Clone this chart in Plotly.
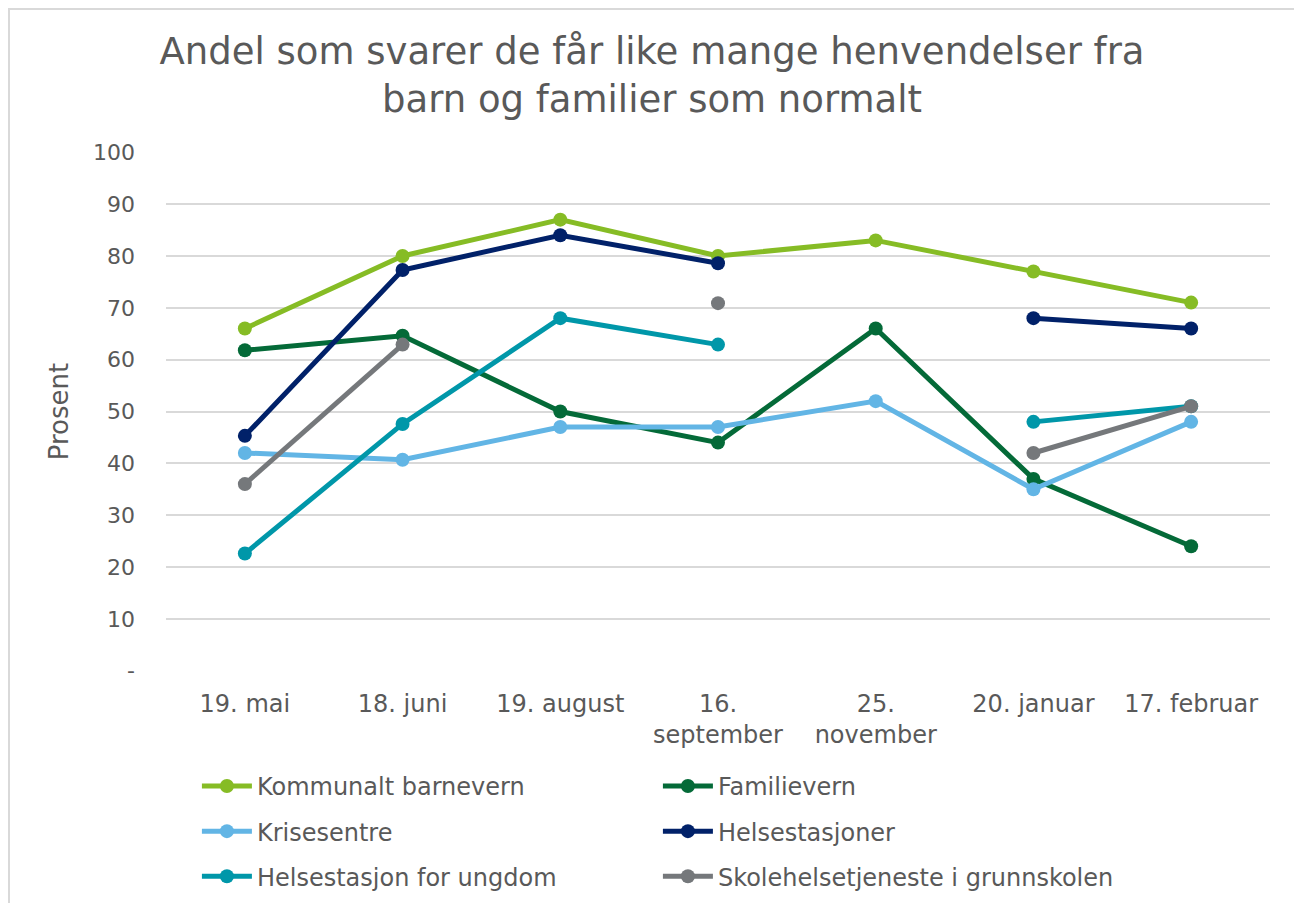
import plotly.graph_objects as go

categories = ["19. mai", "18. juni", "19. august", "16.<br>september", "25.<br>november", "20. januar", "17. februar"]

kommunalt_barnevern = [66, 80, 87, 80, 83, 77, 71]
familievern = [61.8, 64.6, 50, 44, 66, 37, 24]
krisesentre = [42, 40.7, 47, 47, 52, 35, 48]
helsestasjoner = [45.3, 77.3, 84, 78.6, None, 68, 66]
helsestasjon_ungdom = [22.6, 47.6, 68, 62.9, None, 48, 51]
skolehelsetjeneste = [36, 62.9, None, 70.9, None, 42, 51]

series_names = ["Kommunalt barnevern", "Familievern", "Krisesentre", "Helsestasjoner",
                "Helsestasjon for ungdom", "Skolehelsetjeneste i grunnskolen"]
series_values = [kommunalt_barnevern, familievern, krisesentre, helsestasjoner,
                 helsestasjon_ungdom, skolehelsetjeneste]
colors = ["#86BC25", "#046A38", "#62B5E5", "#012169", "#0097A9", "#75787B"]
legend_ids = ["legend", "legend", "legend2", "legend2", "legend3", "legend3"]

y_ticks = [0, 10, 20, 30, 40, 50, 60, 70, 80, 90, 100]
y_ticktext = ["-", "10", "20", "30", "40", "50", "60", "70", "80", "90", "100"]

TEXT = "#595959"
FONT = "DejaVu Sans"

fig = go.Figure()
for name, vals, col, lg in zip(series_names, series_values, colors, legend_ids):
    fig.add_trace(go.Scatter(
        x=categories, y=vals, name=name, mode="lines+markers",
        line=dict(color=col, width=5), marker=dict(color=col, size=14),
        connectgaps=False, legend=lg, cliponaxis=False,
    ))

legend_common = dict(orientation="h", xanchor="left", yanchor="top",
                     font=dict(family=FONT, size=24, color=TEXT),
                     entrywidth=396, entrywidthmode="pixels",
                     bgcolor="rgba(0,0,0,0)", itemwidth=50)

fig.update_layout(
    width=1294, height=895,
    margin=dict(l=158, r=32, t=144, b=232, autoexpand=False),
    paper_bgcolor="white", plot_bgcolor="white",
    font=dict(family=FONT, color=TEXT),
    title=dict(text="Andel som svarer de får like mange henvendelser fra<br>barn og familier som normalt",
               x=0.4977, xanchor="center", xref="container", y=0.937, yanchor="middle",
               yref="container",
               font=dict(family=FONT, size=37, color=TEXT)),
    xaxis=dict(type="category", showgrid=False, showline=False, zeroline=False,
               tickfont=dict(family=FONT, size=24, color=TEXT), ticks="",
               ticklabelstandoff=16, range=[-0.5, 6.5], automargin=False),
    yaxis=dict(range=[-0.05, 100.05], tickvals=y_ticks, ticktext=y_ticktext,
               showgrid=True, gridcolor="#D9D9D9", gridwidth=2, zeroline=False,
               showline=False, tickfont=dict(family=FONT, size=22, color=TEXT),
               ticklabelstandoff=30, automargin=False,
               title=dict(text="Prosent", font=dict(family=FONT, size=26, color=TEXT), standoff=16)),
    legend=dict(x=0.028, y=-0.179, **legend_common),
    legend2=dict(x=0.028, y=-0.266, **legend_common),
    legend3=dict(x=0.028, y=-0.353, **legend_common),
    showlegend=True,
)

fig.add_shape(type="rect", xref="paper", yref="paper",
              x0=-0.1422, x1=1.0245, y0=-0.5, y1=1.2755,
              line=dict(color="#D9D9D9", width=2), fillcolor="rgba(0,0,0,0)", layer="below")

fig.write_html("out.html")
